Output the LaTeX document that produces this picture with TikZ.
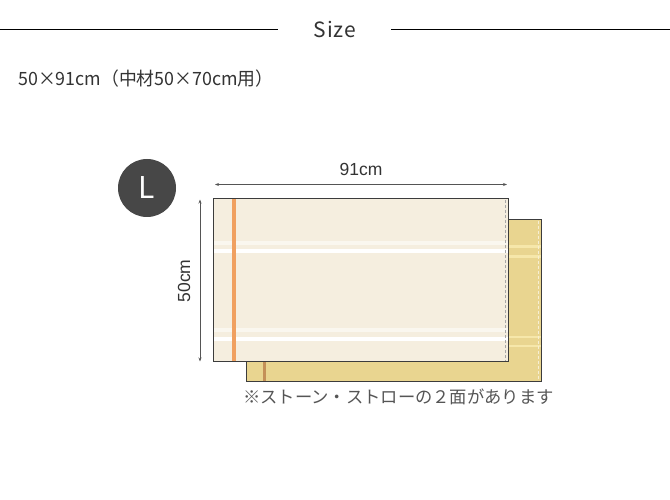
\documentclass[tikz,border=0pt]{standalone}
\usepackage{fontspec}
\setmainfont{Liberation Sans}
\newfontfamily\jp{Noto Sans CJK JP}
\newfontfamily\jpl{Noto Sans CJK JP}[FakeStretch=0.975]
\usetikzlibrary{arrows.meta}
\definecolor{frontfill}{HTML}{F5EEDF}
\definecolor{backfill}{HTML}{E9D590}
\definecolor{orangestripe}{HTML}{F0A060}
\definecolor{brownstripe}{HTML}{C49058}
\definecolor{backlight}{HTML}{F6E7AA}
\definecolor{txt}{HTML}{333333}
\definecolor{dimgray}{HTML}{555555}
\definecolor{circ}{HTML}{474747}
\tikzset{
  dimline/.style={draw=dimgray, line width=0.8pt, {Stealth[length=4pt,width=3pt]}-{Stealth[length=4pt,width=3pt]}},
  sheet/.style={draw=dimgray!70!black, line width=1pt},
  rule/.style={draw=black, line width=0.9pt},
}
\begin{document}
\begin{tikzpicture}[x=1pt,y=-1pt]
\useasboundingbox[fill=white] (0,0) rectangle (670,500);
% title
\node[font=\jp\fontsize{21}{24}\selectfont, text=txt, inner sep=0] (title) at (335,30) {S\kern0.8pt i\kern0.8pt z\kern0.8pt e};
\coordinate (l0) at (0,29); \coordinate (l1) at (278,29);
\coordinate (r0) at (391,29); \coordinate (r1) at (670,29);
\draw[rule] (l0) -- (l1);
\draw[rule] (r0) -- (r1);
% subtitle
\node[font=\jpl\fontsize{18.3}{21}\selectfont, text=txt, anchor=west, inner sep=0] (sub) at (18,79) {50×91cm（中材50×70cm用）};
% L badge
\node[circle, fill=circ, minimum size=58pt, inner sep=0, text=white, font=\jp\fontsize{30}{30}\selectfont] (badge) at (147,188) {L};
% back sheet
\fill[backfill] (246,220) rectangle (541,381.5);
\fill[backlight] (246,245) rectangle (541,247.5);
\fill[backlight] (246,255) rectangle (541,258);
\fill[backlight] (246,335.5) rectangle (541,338);
\fill[backlight] (246,344.5) rectangle (541,347);
\fill[brownstripe] (262.5,220) rectangle (266,381.5);
\draw[white!60!backfill, densely dashed, line width=0.6pt] (538,221) -- (538,381);
\draw[sheet] (246,220) rectangle (541,381.5);
% front sheet
\fill[frontfill] (213.5,199) rectangle (508.5,361.5);
\fill[white!50!frontfill] (213.5,241) rectangle (508.5,245);
\fill[white] (213.5,249) rectangle (508.5,253);
\fill[white!50!frontfill] (213.5,328) rectangle (508.5,332);
\fill[white] (213.5,337) rectangle (508.5,341);
\fill[orangestripe] (231.5,199) rectangle (235.5,361.5);
\draw[gray!70, densely dashed, line width=0.5pt] (505,200) -- (505,361);
\draw[sheet] (213.5,199) rectangle (508.5,361.5);
\node[inner sep=0, minimum width=295pt, minimum height=162.5pt] (front) at (361,280.25) {};
% dimensions
\coordinate (h0) at (215,184.5); \coordinate (h1) at (507,184.5);
\draw[dimline] (h0) -- (h1);
\node[font=\fontsize{17.5}{20}\selectfont, text=txt, inner sep=0] (w) at (361,169) {91cm};
\coordinate (v0) at (200,199.5); \coordinate (v1) at (200,361.5);
\draw[dimline] (v0) -- (v1);
\node[font=\fontsize{17.5}{20}\selectfont, text=txt, inner sep=0, rotate=90] (hgt) at (184,281) {50cm};
% note
\node[font=\jp\fontsize{17.3}{20}\selectfont, text=dimgray, anchor=west, inner sep=0] (note) at (243,397) {※ストーン・ストローの２面があります};
\end{tikzpicture}
\end{document}
